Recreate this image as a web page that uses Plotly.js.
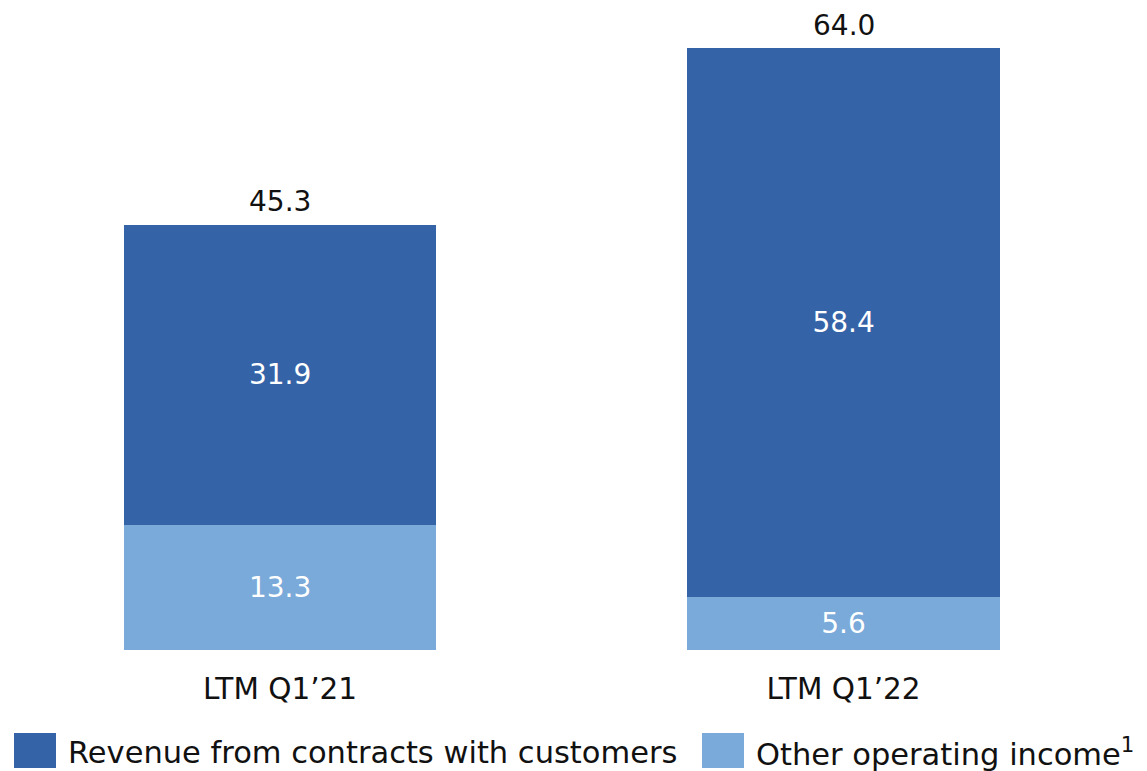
<!DOCTYPE html>
<html><head><meta charset="utf-8">
<script src="https://cdn.plot.ly/plotly-3.0.1.min.js"></script>
<style>html,body{margin:0;padding:0;background:#fff;}#chart{width:1147px;height:771px;}</style>
</head><body><div id="chart"></div>
<script>
const categories = ["LTM Q1\u201921", "LTM Q1\u201922"];
const otherIncome = [13.3, 5.6];
const revenue = [31.9, 58.4];
const totals = [45.3, 64.0];
const seriesNames = ["Revenue from contracts with customers", "Other operating income<sup>1</sup>"];
const colors = {revenue: "#3563A8", other: "#7AAAD9"};
const FONT = "'DejaVu Sans', sans-serif";

const traces = [
  {type: "bar", x: categories, y: otherIncome, name: seriesNames[1],
   marker: {color: colors.other}, text: otherIncome.map(v => v.toFixed(1)),
   textposition: "inside", insidetextanchor: "middle",
   textfont: {color: "#ffffff", size: 28, family: FONT}, hoverinfo: "skip", showlegend: false},
  {type: "bar", x: categories, y: revenue, name: seriesNames[0],
   marker: {color: colors.revenue}, text: revenue.map(v => v.toFixed(1)),
   textposition: "inside", insidetextanchor: "middle",
   textfont: {color: "#ffffff", size: 28, family: FONT}, hoverinfo: "skip", showlegend: false}
];

const annotations = categories.map((c, i) => ({
  x: c, y: totals[i], xref: "x", yref: "y", text: totals[i].toFixed(1),
  showarrow: false, yanchor: "bottom", yshift: 4,
  font: {size: 28, color: "#111111", family: FONT}
}));

const PW = 1127, PH = 640, BASE = 650;
const legendItems = [
  {name: seriesNames[0], color: colors.revenue, x0: 14, x1: 56, tx: 66},
  {name: seriesNames[1], color: colors.other, x0: 702, x1: 744, tx: 754}
];
const shapes = [];
legendItems.forEach(it => {
  shapes.push({type: "rect", xref: "paper", yref: "paper",
    x0: it.x0 / PW, x1: it.x1 / PW,
    y0: (BASE - 733) / PH, y1: (BASE - 768) / PH,
    fillcolor: it.color, line: {width: 0}});
  annotations.push({xref: "paper", yref: "paper", x: it.tx / PW, y: (BASE - 752) / PH,
    xanchor: "left", yanchor: "middle", showarrow: false, text: it.name,
    font: {size: 30.5, color: "#111111", family: FONT}});
});

const layout = {
  width: 1147, height: 771,
  margin: {l: 0, r: 20, t: 10, b: 121},
  barmode: "stack", bargap: 0.446,
  paper_bgcolor: "#ffffff", plot_bgcolor: "#ffffff",
  showlegend: false,
  font: {family: FONT, color: "#111111"},
  xaxis: {range: [-0.497, 1.503], showline: false, showgrid: false, zeroline: false,
          ticks: "outside", ticklen: 13, tickcolor: "rgba(0,0,0,0)",
          tickfont: {size: 29.5, color: "#111111", family: FONT}},
  yaxis: {range: [0, 68.0], visible: false, showgrid: false, zeroline: false},
  annotations: annotations, shapes: shapes
};
Plotly.newPlot("chart", traces, layout, {displayModeBar: false, staticPlot: true});
</script></body></html>
